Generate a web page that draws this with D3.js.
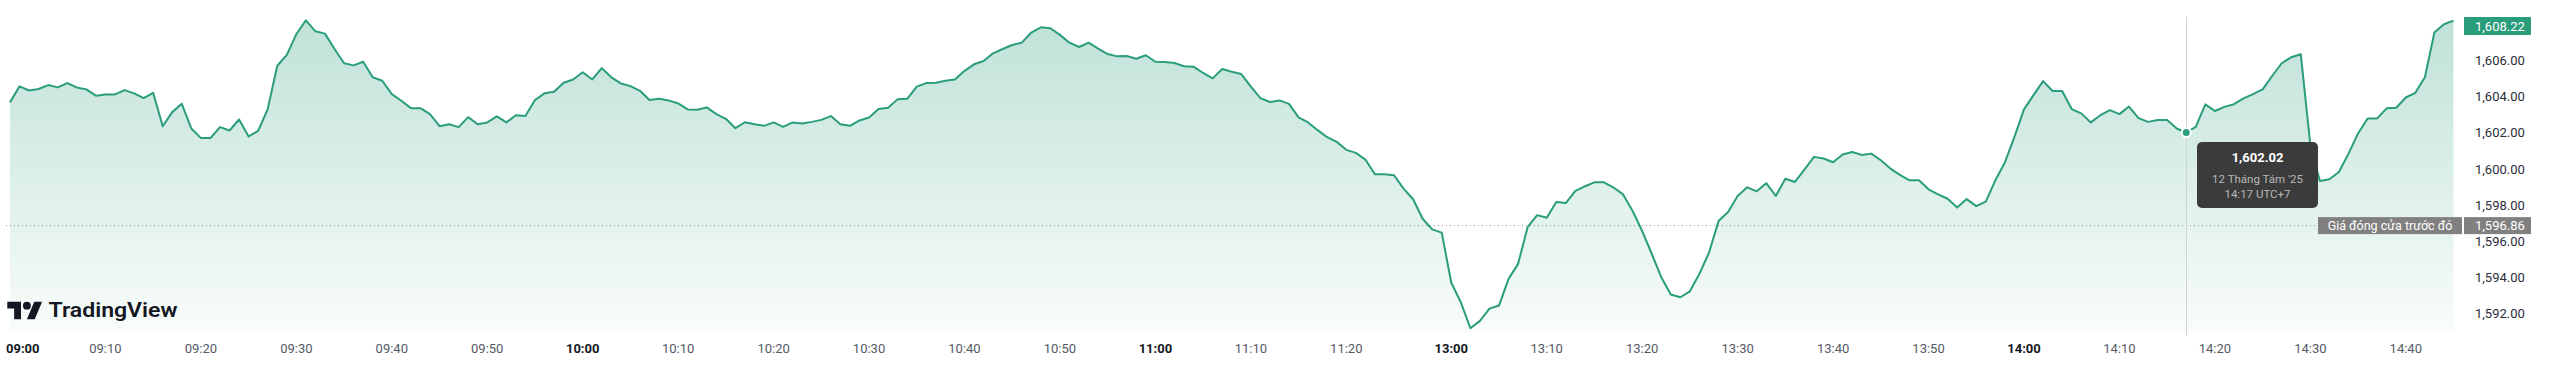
<!DOCTYPE html>
<html>
<head>
<meta charset="utf-8">
<script src="https://cdn.jsdelivr.net/npm/d3@7"></script>
<style>
  html, body { margin: 0; padding: 0; background: #ffffff; }
  svg { display: block; font-family: Roboto, "Liberation Sans", sans-serif; }
</style>
</head>
<body>
<svg id="chart" width="2560" height="372"></svg>
<script>
// ---- Data ----
const times = [
"09:00","09:01","09:02","09:03","09:04","09:05","09:06","09:07","09:08","09:09",
"09:10","09:11","09:12","09:13","09:14","09:15","09:16","09:17","09:18","09:19",
"09:20","09:21","09:22","09:23","09:24","09:25","09:26","09:27","09:28","09:29",
"09:30","09:31","09:32","09:33","09:34","09:35","09:36","09:37","09:38","09:39",
"09:40","09:41","09:42","09:43","09:44","09:45","09:46","09:47","09:48","09:49",
"09:50","09:51","09:52","09:53","09:54","09:55","09:56","09:57","09:58","09:59",
"10:00","10:01","10:02","10:03","10:04","10:05","10:06","10:07","10:08","10:09",
"10:10","10:11","10:12","10:13","10:14","10:15","10:16","10:17","10:18","10:19",
"10:20","10:21","10:22","10:23","10:24","10:25","10:26","10:27","10:28","10:29",
"10:30","10:31","10:32","10:33","10:34","10:35","10:36","10:37","10:38","10:39",
"10:40","10:41","10:42","10:43","10:44","10:45","10:46","10:47","10:48","10:49",
"10:50","10:51","10:52","10:53","10:54","10:55","10:56","10:57","10:58","10:59",
"11:00","11:01","11:02","11:03","11:04","11:05","11:06","11:07","11:08","11:09",
"11:10","11:11","11:12","11:13","11:14","11:15","11:16","11:17","11:18","11:19",
"11:20","11:21","11:22","11:23","11:24","11:25","11:26","11:27","11:28","11:29",
"11:30",
"13:00","13:01","13:02","13:03","13:04","13:05","13:06","13:07","13:08","13:09",
"13:10","13:11","13:12","13:13","13:14","13:15","13:16","13:17","13:18","13:19",
"13:20","13:21","13:22","13:23","13:24","13:25","13:26","13:27","13:28","13:29",
"13:30","13:31","13:32","13:33","13:34","13:35","13:36","13:37","13:38","13:39",
"13:40","13:41","13:42","13:43","13:44","13:45","13:46","13:47","13:48","13:49",
"13:50","13:51","13:52","13:53","13:54","13:55","13:56","13:57","13:58","13:59",
"14:00","14:01","14:02","14:03","14:04","14:05","14:06","14:07","14:08","14:09",
"14:10","14:11","14:12","14:13","14:14","14:15","14:16","14:17","14:18","14:19",
"14:20","14:21","14:22","14:23","14:24","14:25","14:26","14:27","14:28","14:29",
"14:30","14:31","14:32","14:33","14:34","14:35","14:36","14:37","14:38","14:39",
"14:40","14:41","14:42","14:43","14:44","14:45"
];

const prices = [
1603.69,1604.58,1604.35,1604.43,1604.65,1604.52,1604.76,1604.52,1604.41,1604.06,
1604.13,1604.13,1604.37,1604.19,1603.93,1604.22,1602.37,1603.15,1603.61,1602.24,
1601.71,1601.71,1602.32,1602.13,1602.74,1601.80,1602.11,1603.32,1605.72,1606.32,
1607.47,1608.24,1607.63,1607.50,1606.65,1605.86,1605.74,1605.94,1605.08,1604.89,
1604.15,1603.78,1603.37,1603.37,1603.04,1602.37,1602.48,1602.32,1602.87,1602.48,
1602.58,1602.91,1602.58,1602.98,1602.94,1603.82,1604.19,1604.28,1604.78,1604.96,
1605.36,1604.96,1605.59,1605.08,1604.74,1604.59,1604.33,1603.82,1603.89,1603.80,
1603.63,1603.30,1603.28,1603.41,1603.04,1602.78,1602.26,1602.59,1602.48,1602.39,
1602.58,1602.33,1602.58,1602.52,1602.61,1602.72,1602.93,1602.48,1602.39,1602.69,
1602.85,1603.32,1603.39,1603.87,1603.89,1604.56,1604.76,1604.78,1604.89,1604.96,
1605.44,1605.80,1605.98,1606.41,1606.65,1606.87,1607.00,1607.56,1607.85,1607.80,
1607.43,1607.00,1606.76,1607.00,1606.67,1606.37,1606.24,1606.26,1606.11,1606.30,
1605.94,1605.93,1605.87,1605.69,1605.67,1605.32,1605.02,1605.54,1605.39,1605.26,
1604.56,1603.93,1603.71,1603.80,1603.61,1602.86,1602.58,1602.15,1601.76,1601.50,
1601.06,1600.89,1600.52,1599.71,1599.71,1599.65,1598.91,1598.32,1597.24,1596.65,
1596.47,
1593.69,1592.61,1591.17,1591.58,1592.26,1592.43,1593.91,1594.74,1596.78,1597.44,
1597.30,1598.17,1598.11,1598.78,1599.04,1599.26,1599.26,1598.97,1598.59,1597.67,
1596.56,1595.30,1594.00,1593.04,1592.89,1593.22,1594.19,1595.36,1597.11,1597.61,
1598.50,1598.98,1598.76,1599.21,1598.50,1599.46,1599.28,1599.96,1600.67,1600.58,
1600.37,1600.80,1600.94,1600.78,1600.85,1600.48,1600.02,1599.67,1599.37,1599.37,
1598.87,1598.59,1598.35,1597.87,1598.33,1597.94,1598.19,1599.37,1600.36,1601.78,
1603.30,1604.09,1604.87,1604.32,1604.32,1603.32,1603.08,1602.58,1602.98,1603.26,
1603.04,1603.46,1602.82,1602.61,1602.71,1602.71,1602.24,1602.02,1602.33,1603.58,
1603.21,1603.44,1603.59,1603.91,1604.15,1604.41,1605.15,1605.86,1606.19,1606.36,
1601.33,1599.33,1599.43,1599.83,1600.85,1601.97,1602.80,1602.80,1603.36,1603.39,
1603.96,1604.22,1605.08,1607.56,1608.02,1608.22
];

const timeTicks = ["09:00","09:10","09:20","09:30","09:40","09:50","10:00","10:10","10:20","10:30",
  "10:40","10:50","11:00","11:10","11:20","13:00","13:10","13:20","13:30","13:40","13:50",
  "14:00","14:10","14:20","14:30","14:40"];
const boldTicks = ["09:00","10:00","11:00","13:00","14:00"];
const priceTicks = [1592, 1594, 1596, 1598, 1600, 1602, 1604, 1606];
const prevClose = 1596.86;
const prevCloseLabel = "Giá đóng cửa trước đó";
const hoverTime = "14:17";
const hoverDate = "12 Tháng Tám '25";
const hoverZone = "UTC+7";
const brand = "TradingView";

// ---- Layout ----
const W = 2560, H = 372;
const plotTop = 17, plotBottom = 332, plotRight = 2462;
const lineColor = "#2a9d7c";
const fmt = d3.format(",.2f");

const svg = d3.select("#chart");
const idx = d3.range(times.length);

const x = d3.scaleLinear().domain([0, times.length - 1]).range([10, 2453.5]);
const y = d3.scaleLinear().domain([1592, 1606]).range([313.3, 60.7]);

// gradient
const defs = svg.append("defs");
const grad = defs.append("linearGradient").attr("id", "areaGrad")
  .attr("gradientUnits", "userSpaceOnUse")
  .attr("x1", 0).attr("y1", plotTop).attr("x2", 0).attr("y2", plotBottom);
grad.append("stop").attr("offset", "0%").attr("stop-color", lineColor).attr("stop-opacity", 0.30);
grad.append("stop").attr("offset", "100%").attr("stop-color", lineColor).attr("stop-opacity", 0.03);

// area
const area = d3.area().x(i => x(i)).y0(plotBottom).y1(i => y(prices[i]));
svg.append("path").datum(idx).attr("d", area).attr("fill", "url(#areaGrad)");

// previous close dotted line
svg.append("line")
  .attr("x1", 6).attr("x2", 2318)
  .attr("y1", y(prevClose)).attr("y2", y(prevClose))
  .attr("stroke", "#8a8e99").attr("stroke-width", 1).attr("stroke-dasharray", "1,3");

// crosshair vertical
const hi = times.indexOf(hoverTime);
svg.append("line")
  .attr("x1", Math.round(x(hi)) + 0.5).attr("x2", Math.round(x(hi)) + 0.5)
  .attr("y1", plotTop).attr("y2", plotBottom + 4)
  .attr("stroke", "#cfd2d6").attr("stroke-width", 1);

// line
const line = d3.line().x(i => x(i)).y(i => y(prices[i]));
svg.append("path").datum(idx).attr("d", line)
  .attr("fill", "none").attr("stroke", lineColor).attr("stroke-width", 2)
  .attr("stroke-linejoin", "round");

// hover marker
svg.append("circle").attr("cx", x(hi)).attr("cy", y(prices[hi])).attr("r", 4.5)
  .attr("fill", lineColor).attr("stroke", "#ffffff").attr("stroke-width", 2);

// tooltip
const tt = svg.append("g");
const ttX = 2197, ttY = 142, ttW = 121, ttH = 66;
tt.append("rect").attr("x", ttX).attr("y", ttY).attr("width", ttW).attr("height", ttH)
  .attr("rx", 5).attr("fill", "#3b3b3b");
tt.append("text").attr("x", ttX + ttW / 2).attr("y", 161.5).attr("text-anchor", "middle")
  .attr("fill", "#ffffff").attr("font-size", 13).attr("font-weight", 700)
  .text(fmt(prices[hi]));
tt.append("text").attr("x", ttX + ttW / 2).attr("y", 183).attr("text-anchor", "middle")
  .attr("fill", "#b8b8b8").attr("font-size", 11.5).text(hoverDate);
tt.append("text").attr("x", ttX + ttW / 2).attr("y", 197.5).attr("text-anchor", "middle")
  .attr("fill", "#b8b8b8").attr("font-size", 11.5).text(times[hi] + " " + hoverZone);

// price axis labels
svg.append("g").selectAll("text").data(priceTicks).join("text")
  .attr("x", 2475).attr("y", d => y(d)).attr("dy", "0.35em")
  .attr("fill", "#2a2e39").attr("font-size", 13).text(d => fmt(d));

// previous close labels
const pcY = y(prevClose);
svg.append("rect").attr("x", 2318).attr("y", pcY - 8.5).attr("width", 144).attr("height", 17)
  .attr("fill", "#808080");
svg.append("text").attr("x", 2390).attr("y", pcY).attr("dy", "0.35em").attr("text-anchor", "middle")
  .attr("fill", "#ffffff").attr("font-size", 12.5).text(prevCloseLabel);
svg.append("rect").attr("x", 2464).attr("y", pcY - 8.5).attr("width", 67).attr("height", 17)
  .attr("fill", "#808080");
svg.append("text").attr("x", 2475).attr("y", pcY).attr("dy", "0.35em")
  .attr("fill", "#ffffff").attr("font-size", 13).text(fmt(prevClose));

// last price label
const last = prices[prices.length - 1];
const lastY = Math.max(y(last), plotTop + 9);
svg.append("rect").attr("x", 2464).attr("y", lastY - 9).attr("width", 67).attr("height", 18)
  .attr("fill", lineColor);
svg.append("text").attr("x", 2475).attr("y", lastY).attr("dy", "0.35em")
  .attr("fill", "#ffffff").attr("font-size", 13).text(fmt(last));

// time axis labels
svg.append("g").selectAll("text").data(timeTicks).join("text")
  .attr("x", t => t === times[0] ? 6 : x(times.indexOf(t)))
  .attr("y", 348).attr("dy", "0.35em")
  .attr("text-anchor", t => t === times[0] ? "start" : "middle")
  .attr("font-size", 13)
  .attr("font-weight", t => boldTicks.includes(t) ? 700 : 400)
  .attr("fill", t => boldTicks.includes(t) ? "#131722" : "#555a66")
  .text(t => t);

// logo
const logo = svg.append("g").attr("transform", "translate(7.3,297.8) scale(0.98)");
logo.append("path").attr("d", "M14 22H7V11H0V4h14v18zM28 22h-8l7.5-18h8L28 22z").attr("fill", "#131722");
logo.append("circle").attr("cx", 20).attr("cy", 8).attr("r", 4).attr("fill", "#131722");
svg.append("text").attr("x", 48.5).attr("y", 316.8).attr("font-size", 20.5).attr("font-weight", 600)
  .attr("fill", "#131722").attr("textLength", 129).attr("lengthAdjust", "spacingAndGlyphs").text(brand);
</script>
</body>
</html>
